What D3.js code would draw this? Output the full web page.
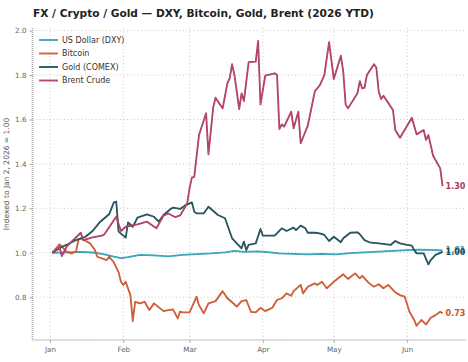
<!DOCTYPE html>
<html>
<head>
<meta charset="utf-8">
<script src="https://cdn.jsdelivr.net/npm/d3@7"></script>
<style>
  body { margin: 0; background: white; }
  svg { display: block; font-family: "DejaVu Sans", sans-serif; }
</style>
</head>
<body>
<div id="chart"></div>
<script>
// series, indexed to Jan 2, 2026 = 1.00
const dxyDates = ['01-02','01-08','01-14','01-20','01-24','01-28','01-31','02-03','02-08','02-14','02-20','02-26',
  '03-04','03-10','03-16','03-20','03-24','03-30','04-03','04-08','04-14','04-20','04-26','05-02','05-08','05-14',
  '05-20','05-26','06-01','06-06','06-11','06-16'];
const dxyValues = [1.0,1.002,1.004,1.0,0.993,0.982,0.976,0.98,0.99,0.988,0.984,0.99,
  0.994,0.997,1.002,1.008,1.004,1.006,1.003,0.997,0.995,0.993,0.995,0.993,0.998,1.002,
  1.005,1.008,1.012,1.014,1.013,1.01];

const btcDates = ['01-02','01-05','01-06','01-08','01-10','01-12','01-13','01-14','01-18','01-20','01-21','01-25',
  '01-26','01-28','01-30','01-31','02-01','02-02','02-04','02-05','02-06','02-08','02-10','02-12','02-14','02-18',
  '02-20','02-22','02-24','02-25','02-26','03-01','03-04','03-05','03-07','03-09','03-12','03-15','03-17','03-19',
  '03-21','03-23','03-25','03-27','03-29','03-31','04-02','04-05','04-07','04-09','04-11','04-13','04-14','04-17',
  '04-18','04-20','04-23','04-24','04-26','04-28','05-01','05-05','05-07','05-10','05-12','05-13','05-16','05-18',
  '05-20','05-22','05-24','05-27','05-29','05-31','06-02','06-04','06-05','06-07','06-09','06-11','06-13','06-15','06-16'];
const btcValues = [1.0,1.038,1.027,1.005,0.997,1.005,1.057,1.065,1.042,1.012,0.982,0.967,
  0.982,0.957,0.912,0.869,0.855,0.869,0.809,0.692,0.779,0.772,0.779,0.742,0.772,0.737,
  0.742,0.745,0.704,0.735,0.731,0.731,0.802,0.764,0.727,0.772,0.782,0.827,0.795,0.777,
  0.757,0.782,0.787,0.734,0.731,0.752,0.737,0.752,0.787,0.795,0.817,0.806,0.827,0.855,
  0.817,0.847,0.862,0.855,0.869,0.84,0.869,0.903,0.882,0.907,0.885,0.896,0.862,0.847,
  0.858,0.84,0.855,0.822,0.809,0.802,0.734,0.697,0.671,0.697,0.677,0.707,0.719,0.734,0.727];

const goldDates = ['01-02','01-06','01-08','01-12','01-16','01-19','01-22','01-26','01-28','01-29','01-30','02-02',
  '02-03','02-05','02-07','02-11','02-14','02-16','02-18','02-21','02-22','02-25','02-27','03-02','03-03','03-04',
  '03-07','03-09','03-13','03-16','03-19','03-23','03-24','03-25','03-26','03-29','03-31','04-01','04-06','04-09',
  '04-11','04-14','04-15','04-17','04-19','04-20','04-23','04-25','04-27','04-29','05-01','05-04','05-05','05-08',
  '05-11','05-12','05-14','05-16','05-20','05-25','05-27','05-29','06-01','06-03','06-04','06-05','06-08','06-10',
  '06-11','06-13','06-16'];
const goldValues = [1.0,1.027,1.035,1.057,1.072,1.098,1.137,1.173,1.227,1.23,1.095,1.068,
  1.137,1.117,1.158,1.173,1.162,1.14,1.17,1.197,1.203,1.197,1.212,1.227,1.185,1.177,
  1.177,1.207,1.17,1.155,1.065,1.02,1.05,1.012,1.035,1.042,1.107,1.077,1.077,1.11,
  1.098,1.113,1.102,1.122,1.11,1.09,1.09,1.087,1.08,1.053,1.072,1.047,1.065,1.09,
  1.092,1.083,1.057,1.047,1.042,1.035,1.053,1.042,1.035,1.032,1.012,0.997,0.997,0.948,
  0.967,0.99,1.004];

const brentDates = ['01-02','01-05','01-06','01-08','01-14','01-15','01-19','01-23','01-24','01-29','01-31','02-02',
  '02-07','02-11','02-15','02-18','02-20','02-23','02-25','02-28','03-01','03-02','03-03','03-05','03-08','03-09',
  '03-11','03-12','03-15','03-17','03-18','03-19','03-20','03-22','03-23','03-24','03-26','03-29','03-30','03-31',
  '04-02','04-06','04-07','04-08','04-09','04-10','04-13','04-14','04-16','04-17','04-20','04-23','04-24','04-25',
  '04-27','04-29','05-01','05-04','05-05','05-06','05-07','05-11','05-12','05-13','05-14','05-15','05-18','05-19',
  '05-20','05-21','05-22','05-26','05-27','05-29','06-02','06-03','06-05','06-08','06-09','06-10','06-12','06-15','06-16'];
const brentValues = [1.0,1.026,0.985,1.027,1.09,1.057,1.069,1.077,1.083,1.162,1.098,1.117,
  1.128,1.14,1.11,1.167,1.177,1.16,1.168,1.222,1.29,1.338,1.342,1.53,1.628,1.443,
  1.653,1.698,1.65,1.763,1.786,1.849,1.80,1.647,1.718,1.683,1.858,1.861,1.954,1.668,
  1.797,1.808,1.80,1.557,1.578,1.568,1.635,1.56,1.635,1.493,1.572,1.728,1.74,1.753,
  1.80,1.948,1.782,1.887,1.815,1.668,1.65,1.718,1.773,1.74,1.743,1.80,1.849,1.833,
  1.725,1.692,1.707,1.643,1.553,1.518,1.59,1.608,1.533,1.553,1.508,1.53,1.437,1.38,1.30];

const seriesNames = ['US Dollar (DXY)', 'Bitcoin', 'Gold (COMEX)', 'Brent Crude'];
const seriesColors = ['#2f9cb3', '#c9522b', '#1d4a54', '#a8385a'];
const seriesLight = ['#7fd0df', '#f09a6e', '#5f939c', '#e07f9e'];
const yTicks = [0.8, 1.0, 1.2, 1.4, 1.6, 1.8, 2.0];

const parse = d3.timeParse('%Y-%m-%d');
const toPoints = (dates, vals) => dates.map((d, i) => ({ date: parse('2026-' + d), value: vals[i] }));
const series = [
  toPoints(dxyDates, dxyValues),
  toPoints(btcDates, btcValues),
  toPoints(goldDates, goldValues),
  toPoints(brentDates, brentValues)
];

let width = 468, height = 362;
let plot = { left: 32.5, right: 466, top: 28, bottom: 340 };

let svg = d3.select('#chart')
  .append('svg')
    .attr('width', width)
    .attr('height', height)
    .style('background', 'white');

// x: Jan 1 sits at 50px, about 2.366px per day
let day = 86400000;
let jan1 = parse('2026-01-01');
let xScale = d3.scaleTime()
  .domain([new Date(+jan1 - 7.4 * day), new Date(+jan1 + 175.9 * day)])
  .range([plot.left, plot.right]);

let yScale = d3.scaleLinear()
  .domain([0.607, 2.012])
  .range([plot.bottom, plot.top]);

let monthTicks = d3.timeMonth.range(jan1, parse('2026-06-15'));

// grid
let grid = svg.append('g').attr('class', 'grid');
grid.selectAll('line.h')
  .data(yTicks)
  .enter().append('line')
    .attr('x1', plot.left).attr('x2', plot.right)
    .attr('y1', d => yScale(d)).attr('y2', d => yScale(d))
    .attr('stroke', '#bdbdbd').attr('stroke-width', 0.8)
    .attr('stroke-dasharray', '1,2.5');
grid.selectAll('line.v')
  .data(monthTicks)
  .enter().append('line')
    .attr('x1', d => xScale(d)).attr('x2', d => xScale(d))
    .attr('y1', plot.top).attr('y2', plot.bottom)
    .attr('stroke', '#bdbdbd').attr('stroke-width', 0.8)
    .attr('stroke-dasharray', '1,2.5');

// axes
let xAxis = d3.axisBottom(xScale)
  .tickValues(monthTicks)
  .tickFormat(d3.timeFormat('%b'))
  .tickSize(3)
  .tickPadding(4);
svg.append('g')
  .attr('class', 'x axis')
  .attr('transform', 'translate(0,' + plot.bottom + ')')
  .call(xAxis);

let yAxis = d3.axisLeft(yScale)
  .tickValues(yTicks)
  .tickFormat(d3.format('.1f'))
  .tickSize(3)
  .tickPadding(3);
svg.append('g')
  .attr('class', 'y axis')
  .attr('transform', 'translate(' + plot.left + ',0)')
  .call(yAxis);

svg.selectAll('.axis .domain').remove();
svg.selectAll('.axis .tick line').attr('stroke', '#999').attr('stroke-width', 0.8);
svg.selectAll('.axis .tick text')
  .attr('fill', '#666')
  .style('font-size', '7.2px')
  .style('font-family', '"DejaVu Sans", sans-serif');

// spines
svg.append('line')
  .attr('x1', plot.left).attr('x2', plot.left)
  .attr('y1', plot.top).attr('y2', plot.bottom)
  .attr('stroke', '#aaa').attr('stroke-width', 1.6)
  .attr('stroke-dasharray', '1,1');
svg.append('line')
  .attr('x1', plot.left).attr('x2', plot.right)
  .attr('y1', plot.bottom).attr('y2', plot.bottom)
  .attr('stroke', '#aaa').attr('stroke-width', 1.6)
  .attr('stroke-dasharray', '1,1');

// lines
let line = d3.line()
  .x(d => xScale(d.date))
  .y(d => yScale(d.value));

let lines = svg.append('g').attr('class', 'lines');
series.forEach((s, i) => {
  lines.append('path')
    .datum(s)
    .attr('fill', 'none')
    .attr('stroke', seriesColors[i])
    .attr('stroke-width', 1.8)
    .attr('stroke-linejoin', 'round')
    .attr('d', line);
  lines.append('path')
    .datum(s)
    .attr('fill', 'none')
    .attr('stroke', seriesLight[i])
    .attr('stroke-width', 0.5)
    .attr('stroke-dasharray', '1,1')
    .attr('d', line);
});

// end labels
series.forEach((s, i) => {
  let last = s[s.length - 1];
  svg.append('text')
    .attr('x', xScale(last.date) + 3)
    .attr('y', yScale(last.value))
    .attr('dy', '0.35em')
    .attr('fill', seriesColors[i])
    .style('font-size', '8px')
    .style('font-weight', 'bold')
    .text(d3.format('.2f')(last.value));
});

// legend
let legend = svg.append('g').attr('class', 'legend');
seriesNames.forEach((name, i) => {
  let y = 40 + i * 13.5;
  legend.append('line')
    .attr('x1', 39).attr('x2', 58)
    .attr('y1', y).attr('y2', y)
    .attr('stroke', seriesColors[i]).attr('stroke-width', 1.8);
  legend.append('line')
    .attr('x1', 39).attr('x2', 58)
    .attr('y1', y).attr('y2', y)
    .attr('stroke', seriesLight[i]).attr('stroke-width', 0.5)
    .attr('stroke-dasharray', '1,1');
  legend.append('text')
    .attr('x', 62)
    .attr('y', y)
    .attr('dy', '0.35em')
    .attr('fill', '#333')
    .style('font-size', '8px')
    .text(name);
});

// y label
svg.append('text')
  .attr('transform', 'translate(9,174) rotate(-90)')
  .attr('text-anchor', 'middle')
  .attr('fill', '#555')
  .style('font-size', '7.5px')
  .text('Indexed to Jan 2, 2026 = 1.00');

// title
svg.append('text')
  .attr('x', 33)
  .attr('y', 17)
  .attr('fill', '#222')
  .style('font-size', '10.6px')
  .style('font-weight', 'bold')
  .text('FX / Crypto / Gold \u2014 DXY, Bitcoin, Gold, Brent (2026 YTD)');
</script>
</body>
</html>
